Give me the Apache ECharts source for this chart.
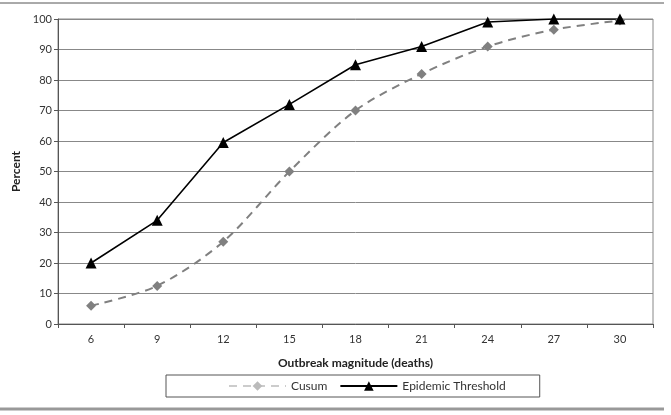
<!DOCTYPE html>
<html>
<head>
<meta charset="utf-8">
<script src="https://cdn.jsdelivr.net/npm/echarts@6/dist/echarts.min.js"></script>
<style>
  html, body { margin: 0; padding: 0; background: #fff; }
  #chart { width: 671px; height: 415px; }
</style>
</head>
<body>
<div id="chart"></div>
<script>
// outbreak magnitude (deaths) on the x axis
const magnitudes = ["6", "9", "12", "15", "18", "21", "24", "27", "30"];
const cusum = [6, 12.5, 27, 50, 70, 82, 91, 96.5, 99.5];
const epidemicThreshold = [20, 34, 59.5, 72, 85, 91, 99, 100, 100];

const chart = echarts.init(document.getElementById("chart"));

const option = {
    animation: false,
    textStyle: { fontFamily: "Lato, sans-serif" },
    grid: {
        left: 58, right: 18, top: 19, bottom: 91,
        show: true, borderColor: "#888", borderWidth: 1
    },
    legend: {
        bottom: 18,
        left: 166,
        padding: [5, 34, 5, 62],
        borderColor: "#555",
        borderWidth: 1,
        borderRadius: 0,
        itemWidth: 57,
        itemHeight: 12,
        itemGap: 12,
        textStyle: { color: "#333", fontSize: 12 },
        data: [
            { name: "Cusum", itemStyle: { color: "#bbb" }, lineStyle: { color: "#ccc", type: [8, 6] } },
            { name: "Epidemic Threshold" }
        ]
    },
    xAxis: {
        type: "category",
        data: magnitudes,
        boundaryGap: true,
        name: "Outbreak magnitude (deaths)",
        nameLocation: "middle",
        nameGap: 33,
        nameTextStyle: { fontWeight: "bold", color: "#222", fontSize: 12 },
        axisLine: { lineStyle: { color: "#555" } },
        axisTick: { show: true, alignWithLabel: false, length: 4, lineStyle: { color: "#555" } },
        axisLabel: { color: "#333", fontSize: 11, margin: 10 },
        splitLine: { show: false }
    },
    yAxis: {
        type: "value",
        min: 0, max: 100, interval: 10,
        name: "Percent",
        nameLocation: "middle",
        nameGap: 36,
        nameTextStyle: { fontWeight: "bold", color: "#222", fontSize: 12 },
        axisLine: { show: true, lineStyle: { color: "#555" } },
        axisTick: { show: true, length: 4, lineStyle: { color: "#555" } },
        axisLabel: { color: "#333", fontSize: 11, margin: 6 },
        splitLine: { lineStyle: { color: "#888", width: 1 } }
    },
    graphic: [
        { type: "line", shape: { x1: 0, y1: 3, x2: 664, y2: 3 }, style: { stroke: "#555", lineWidth: 1 } },
        { type: "line", shape: { x1: 0, y1: 409, x2: 664, y2: 409 }, style: { stroke: "#999", lineWidth: 3 } }
    ],
    series: [
        {
            name: "Cusum",
            type: "line",
            data: cusum,
            smooth: 0.3,
            symbol: "diamond",
            symbolSize: 10,
            itemStyle: { color: "#808080" },
            lineStyle: { color: "#808080", width: 2, type: [8, 6] }
        },
        {
            name: "Epidemic Threshold",
            type: "line",
            data: epidemicThreshold,
            symbol: "triangle",
            symbolSize: 11,
            itemStyle: { color: "#000" },
            lineStyle: { color: "#000", width: 1.6 }
        }
    ]
};

chart.setOption(option);
</script>
</body>
</html>
